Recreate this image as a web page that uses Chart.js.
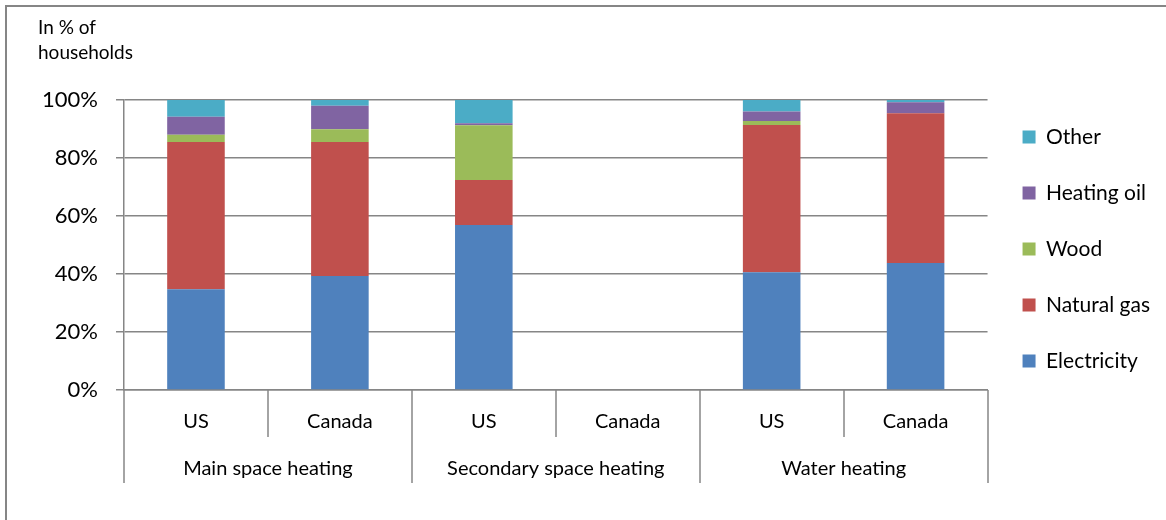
<!DOCTYPE html>
<html>
<head>
<meta charset="utf-8">
<script src="https://cdn.jsdelivr.net/npm/chart.js@4"></script>
<style>
  body { margin: 0; background: #fff; }
  #wrap { position: relative; width: 1166px; height: 520px; }
  #frame { position: absolute; left: 5px; top: 5px; width: 1170px; height: 530px;
           border-left: 2px solid #868686; border-top: 2px solid #868686; }
</style>
</head>
<body>
<div id="wrap">
  <div id="frame"></div>
  <canvas id="myChart" width="1166" height="520"></canvas>
</div>
<script>
const labels = ['US', 'Canada', 'US', 'Canada', 'US', 'Canada'];
const groups = ['Main space heating', 'Secondary space heating', 'Water heating'];

// shares in % of households
var electricity = [34.7, 39.3, 56.9, null, 40.6, 43.8];
var naturalGas  = [50.8, 46.2, 15.5, null, 50.8, 51.6];
var wood        = [2.5, 4.4, 18.9, null, 1.4, 0];
var heatingOil  = [6.2, 8.1, 0.7, null, 3.2, 3.8];
var other       = [5.8, 2.0, 8.0, null, 4.0, 0.8];

const gridGrey = '#868686';
const font = 'Lato';

// separators under the two-level category axis
const separators = {
    id: 'separators',
    afterDraw(chart) {
        const x = chart.scales.x;
        const x2 = chart.scales.x2;
        const ctx = chart.ctx;
        const w = (x.right - x.left) / labels.length;
        ctx.save();
        ctx.strokeStyle = gridGrey;
        ctx.lineWidth = 1.5;
        for (var k = 0; k <= labels.length; k++) {
            var px = Math.round(x.left + k * w);
            var bottom = (k % 2 === 0) ? x2.bottom : x.bottom;
            ctx.beginPath();
            ctx.moveTo(px, x.top);
            ctx.lineTo(px, bottom);
            ctx.stroke();
        }
        ctx.restore();
    }
};

const data = {
    labels: labels,
    datasets: [
        { label: 'Electricity', data: electricity, backgroundColor: '#4F81BD' },
        { label: 'Natural gas', data: naturalGas, backgroundColor: '#C0504D' },
        { label: 'Wood', data: wood, backgroundColor: '#9BBB59' },
        { label: 'Heating oil', data: heatingOil, backgroundColor: '#8064A2' },
        { label: 'Other', data: other, backgroundColor: '#4BACC6' }
    ]
};

const config = {
    type: 'bar',
    data: data,
    plugins: [separators],
    options: {
        responsive: false,
        animation: false,
        categoryPercentage: 1,
        barPercentage: 0.4,
        layout: { padding: { left: 38, top: 15, right: 6, bottom: 37 } },
        plugins: {
            title: {
                display: true,
                text: ['In % of', 'households'],
                align: 'start',
                color: '#000',
                font: { family: font, size: 19, weight: 'normal', lineHeight: '25px' },
                padding: { top: 0, bottom: 35 }
            },
            legend: {
                position: 'right',
                reverse: true,
                labels: {
                    boxWidth: 13,
                    boxHeight: 13,
                    padding: 35,
                    color: '#000',
                    font: { family: font, size: 21 }
                }
            },
            tooltip: { enabled: false }
        },
        scales: {
            x: {
                stacked: true,
                grid: { display: false, drawTicks: false },
                border: { display: true, color: gridGrey, width: 1.5 },
                ticks: { color: '#000', padding: 20, font: { family: font, size: 20 } },
                afterFit(scale) { scale.height = 47; }
            },
            x2: {
                type: 'category',
                labels: groups,
                offset: true,
                position: 'bottom',
                grid: { display: false, drawTicks: false },
                border: { display: false },
                ticks: { color: '#000', padding: 20, font: { family: font, size: 20 } },
                afterFit(scale) { scale.height = 46; }
            },
            y: {
                stacked: true,
                min: 0,
                max: 100,
                ticks: {
                    stepSize: 20,
                    color: '#000',
                    padding: 18,
                    font: { family: font, size: 22 },
                    callback: (v) => v + '%'
                },
                grid: { color: gridGrey, lineWidth: 1.5, tickLength: 8 },
                border: { display: true, color: gridGrey, width: 1.5 },
                afterFit(scale) { scale.width = 86; }
            }
        }
    }
};

var myChart = new Chart(document.getElementById('myChart'), config);
</script>
</body>
</html>
